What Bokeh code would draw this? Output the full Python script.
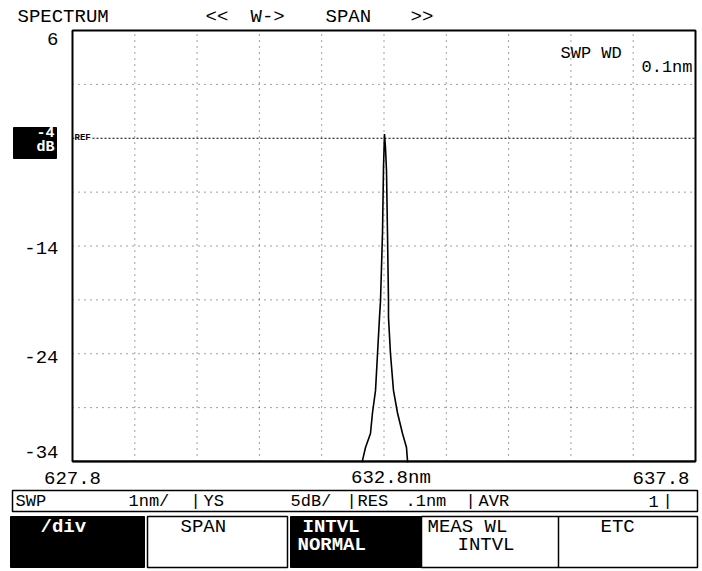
from bokeh.plotting import figure
from bokeh.models import Range1d, ColumnDataSource
from bokeh.embed import file_html
from bokeh.resources import INLINE
from bokeh.core.properties import value

# ---------------- data ----------------
wavelength_nm = [632.44, 632.455, 632.503, 632.583, 632.615, 632.664, 632.696, 632.728,
                 632.744, 632.776, 632.792, 632.800, 632.808,
                 632.824, 632.840, 632.856, 632.872, 632.872, 632.904, 632.952, 633.017,
                 633.097, 633.161, 633.177, 633.19]
power_db = [-36, -33.9, -32.7, -31.4, -29.5, -27.4, -24.0, -20.6,
            -19.1, -12.8, -6.7, -5.1, -3.6,
            -4.9, -7.0, -12.8, -19.1, -20.6, -24.0, -27.4, -29.5,
            -31.4, -32.7, -33.9, -36]

x_ticks = [627.8, 632.8, 637.8]
x_tick_labels = ["627.8", "632.8nm", "637.8"]
x_grid = [628.8, 629.8, 630.8, 631.8, 632.8, 633.8, 634.8, 635.8, 636.8]
y_ticks = [6, -14, -24, -34]
y_tick_labels = ["6", "-14", "-24", "-34"]
y_grid = [1, -9, -14, -19, -24, -29]
ref_level = -4
ref_text = ["-4", "dB"]

title_parts = ["SPECTRUM", "<<", "W->", "SPAN", ">>"]
sweep_width = ["SWP WD", "0.1nm"]

status_texts = ["SWP", "1nm/", "|", "YS", "5dB/", "|", "RES", ".1nm", "|", "AVR", "1", "|"]
softkey_texts = ["/div", "SPAN", "INTVL", "NORMAL", "MEAS WL", "INTVL", "ETC"]

# ---------------- layout ----------------
FONT = "Liberation Mono"
X0, X1 = 627.8, 637.8          # wavelength span
Y0, Y1 = -34, 6                # level span
FL, FR, FT, FB = 72, 695, 30, 461   # plotting area edges, pixels
W, H = 700, 570


def dx(xp):
    return X0 + (xp - FL) * (X1 - X0) / (FR - FL)


def dy(yp):
    return Y1 - (yp - FT) * (Y1 - Y0) / (FB - FT)


p = figure(width=W, height=H, x_range=Range1d(dx(0), dx(W)), y_range=Range1d(dy(H), dy(0)),
           output_backend="svg", toolbar_location=None, min_border=0)
p.axis.visible = False
p.grid.visible = False
p.outline_line_color = None
p.background_fill_color = "white"
p.border_fill_color = "white"

TXT = dict(text_font=value(FONT), text_baseline="middle")

# grid
p.segment(x0=x_grid, y0=[Y0] * len(x_grid), x1=x_grid, y1=[Y1] * len(x_grid),
          line_color="black", line_alpha=0.75, line_dash="1 5", line_width=1)
p.segment(x0=[X0] * len(y_grid), y0=y_grid, x1=[X1] * len(y_grid), y1=y_grid,
          line_color="black", line_alpha=0.75, line_dash="1 5", line_width=1)
# reference level line
p.segment(x0=[X0], y0=[ref_level], x1=[X1], y1=[ref_level],
          line_color="black", line_dash="2 2", line_width=1.2)

# trace
src = ColumnDataSource(dict(wl=wavelength_nm, pw=power_db))
p.line("wl", "pw", source=src, line_color="black", line_width=1.6)

# plotting-area border (covers the clipped tails of the trace)
p.quad(left=[X0], right=[X1], bottom=[Y0], top=[Y1], fill_color=None,
       line_color="black", line_width=2)
p.quad(left=[X0 - 0.5], right=[X1 + 0.5], bottom=[dy(H)], top=[dy(FB + 1)],
       fill_color="white", line_color=None)
p.segment(x0=[X0], y0=[Y0], x1=[X1], y1=[Y0], line_color="black", line_width=2)

# y tick labels
p.text(x=[X0] * len(y_ticks), y=y_ticks, text=y_tick_labels, x_offset=-14,
       y_offset=[8, 2, 3, -10], text_align="right", text_font_size="19px",
       text_color="black", **TXT)

# reference level box  "-4 dB"
p.quad(left=[dx(13)], right=[dx(56)], top=[dy(127)], bottom=[dy(158)],
       fill_color="black", line_color="black")
p.text(x=[X0, X0], y=[ref_level, ref_level], text=ref_text, x_offset=-18,
       y_offset=[-6, 9], text_align="right", text_font_size="15px",
       text_font_style="bold", text_color="white", **TXT)
p.text(x=[dx(74)], y=[ref_level], text=["REF"], text_font_size="9px",
       text_font_style="bold", text_color="black", background_fill_color="white",
       **TXT)

# x tick labels
p.text(x=x_ticks, y=[Y0] * 3, text=x_tick_labels, y_offset=16,
       x_offset=[0, -33, -6], text_align=["center", "left", "right"],
       text_font_size="19px", text_color="black", **TXT)

# title pieces
title_x = [17, 205, 250, 325, 410]
p.text(x=[dx(v) for v in title_x], y=[Y1] * len(title_x), text=title_parts,
       y_offset=-14, text_font_size="19px", text_color="black", **TXT)

# sweep width annotation
p.text(x=[dx(560), dx(692)], y=[Y1, Y1], text=sweep_width, y_offset=[23, 37],
       text_align=["left", "right"], text_font_size="17px", text_color="black", **TXT)

# ---------------- bottom status / softkey panel ----------------
p.quad(left=[dx(12)], right=[dx(697)], top=[dy(490)], bottom=[dy(511)],
       fill_color="white", line_color="black", line_width=1.5)
status_x = [15, 128, 190, 203, 290, 346, 357, 405, 465, 478, 648, 662]
p.text(x=[dx(v) for v in status_x], y=[dy(501)] * len(status_x), text=status_texts,
       text_font_size="17px", text_color="black", **TXT)

p.quad(left=[dx(10), dx(290)], right=[dx(144), dx(421)], top=[dy(516)] * 2,
       bottom=[dy(567)] * 2, fill_color="black", line_color="black")
p.quad(left=[dx(147), dx(421)], right=[dx(287), dx(697)], top=[dy(516)] * 2,
       bottom=[dy(567)] * 2, fill_color="white", line_color="black", line_width=1.5)
p.segment(x0=[dx(558)], y0=[dy(516)], x1=[dx(558)], y1=[dy(567)],
          line_color="black", line_width=1.5)

sk_x = [40, 180, 302, 297, 427, 457, 600]
sk_y = [526, 526, 526, 544, 526, 544, 526]
sk_col = ["white", "black", "white", "white", "black", "black", "black"]
sk_style = ["bold", "normal", "bold", "bold", "normal", "normal", "normal"]
p.text(x=[dx(v) for v in sk_x], y=[dy(v) for v in sk_y], text=softkey_texts,
       text_font_size="19px", text_color=sk_col, text_font_style=sk_style, **TXT)

open("out.html", "w").write(file_html(p, INLINE))
